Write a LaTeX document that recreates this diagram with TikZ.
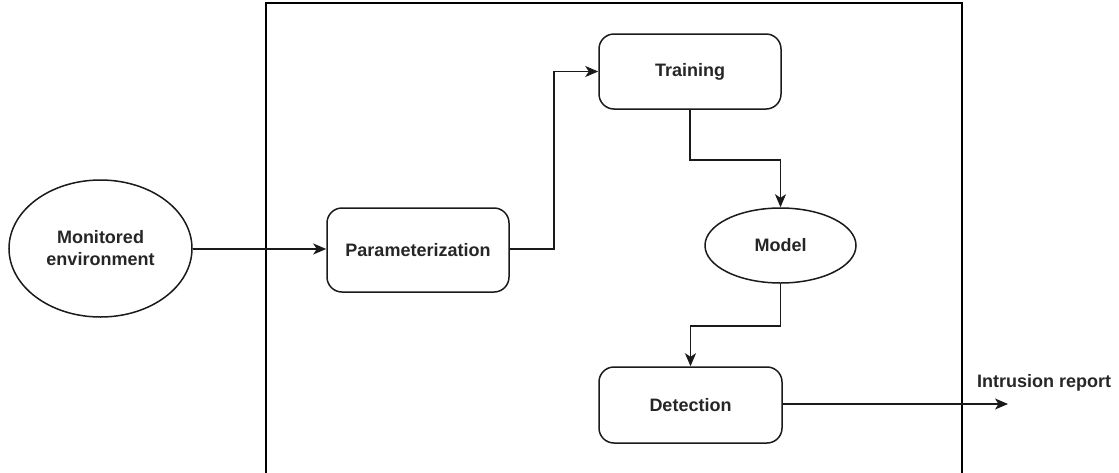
\documentclass[tikz,border=0pt]{standalone}
\usepackage{fontspec}
\setmainfont{Liberation Sans}
\usetikzlibrary{shapes.geometric,arrows.meta}
\definecolor{txt}{HTML}{262626}
\definecolor{ln}{HTML}{1A1A1A}
\tikzset{
  lbl/.style={font=\fontsize{18}{22}\selectfont\bfseries, text=txt, align=center},
  procbox/.style={lbl, draw=ln, line width=1.5pt, rounded corners=15pt, inner sep=0pt, fill=white},
  oval/.style={lbl, draw=ln, line width=1.5pt, ellipse, inner sep=0pt, fill=white},
  conn/.style={draw=ln, line width=1.5pt, -{Stealth[length=13pt,width=11pt,inset=3.5pt]}},
  frame/.style={draw=black, line width=2pt}
}
\begin{document}
\begin{tikzpicture}[x=1pt,y=-1pt]
\useasboundingbox (0,0) rectangle (1119,472);
% enclosing system boundary, open at the bottom
\draw[frame] (266,480) -- (266,3) -- (962,3) -- (962,480);

\node[oval, minimum width=183pt, minimum height=137pt] (env) at (100.5,248.5) {Monitored\\environment};
\node[procbox, minimum width=182pt, minimum height=84pt] (param) at (418,250) {Parameterization};
\node[procbox, minimum width=182pt, minimum height=75pt] (train) at (690,71.5) {Training};
\node[oval, minimum width=151pt, minimum height=75pt] (model) at (780.5,245.5) {Model};
\node[procbox, minimum width=183pt, minimum height=76pt] (detect) at (690.5,405) {Detection};
\coordinate (out) at (1008,404);
\node[lbl, anchor=west, inner sep=0pt] (report) at (977,383) {Intrusion report};

\draw[conn] (env.east |- 0,249) -- (param.west |- 0,249);
\draw[conn] (param.east |- 0,249) -- (554,249) |- (train.west);
\draw[conn] (train.south) -- ++(0,50) -| (model.north);
\draw[conn] (model.south) -- ++(0,42) -| (detect.north);
\draw[conn] (detect.east |- out) -- (out);
\end{tikzpicture}
\end{document}
